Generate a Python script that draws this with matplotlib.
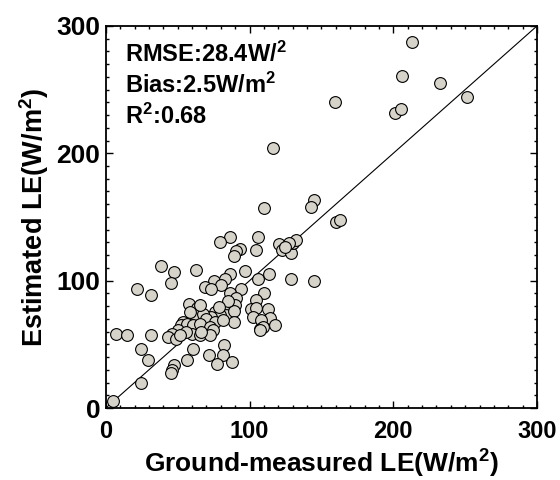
"""Scatter of estimated vs ground-measured latent heat flux (LE)."""

import matplotlib

matplotlib.use("Agg")
import matplotlib.pyplot as plt
from matplotlib.ticker import MultipleLocator

# ground-measured LE (W/m2)
measured = [
    213.1, 205.9, 232.3, 251.6, 159.7, 201.5, 205.7, 116.2, 144.9, 142.6,
    109.9, 160.4, 163.2, 86.7, 79.5, 106.2, 104.8, 93.2, 90.9, 89.3,
    120.3, 122.9, 128.5, 130.3, 132.6, 127.5, 124.5, 38.7, 47.3, 45.0,
    62.8, 97.1, 86.2, 106.2, 113.6, 128.5, 144.9, 22.0, 31.1, 75.4,
    82.8, 79.8, 69.1, 73.5, 94.1, 86.2, 90.9, 110.1, 104.8, 90.2,
    58.0, 101.3, 112.9, 104.8, 63.1, 65.4, 61.9, 75.8, 81.6, 83.9,
    89.3, 102.5, 114.1, 107.8, 89.3, 117.5, 107.1, 109.4, 79.3, 73.5,
    67.5, 70.0, 75.8, 81.6, 53.8, 52.6, 56.6, 60.8, 65.4, 72.3,
    50.3, 74.7, 59.6, 65.4, 72.3, 66.5, 56.1, 45.7, 43.4, 48.7,
    51.5, 107.1, 7.4, 14.8, 31.1, 24.8, 29.0, 60.3, 56.6, 71.6,
    82.3, 81.2, 77.0, 87.9, 47.3, 45.7, 45.0, 24.8, 5.1, 85.1,
    78.4, 65.4, 58.4,
]
# estimated LE (W/m2)
estimated = [
    287.7, 260.7, 255.4, 244.4, 240.5, 231.3, 234.7, 204.4, 163.0, 157.7,
    156.7, 146.4, 147.5, 134.4, 130.7, 134.4, 124.2, 124.7, 123.1, 119.5,
    128.6, 124.4, 121.8, 129.2, 131.8, 129.2, 126.5, 111.3, 106.4, 98.0,
    108.2, 107.7, 105.1, 101.4, 105.1, 101.4, 99.6, 93.3, 89.1, 99.6,
    100.9, 96.4, 95.1, 93.8, 93.5, 90.4, 86.7, 90.4, 85.1, 80.7,
    82.0, 78.1, 77.5, 78.9, 78.9, 74.1, 74.1, 75.5, 78.1, 72.8,
    76.0, 71.5, 70.7, 68.9, 67.6, 65.0, 62.4, 63.7, 72.8, 71.5,
    74.1, 70.2, 67.6, 68.9, 67.6, 65.5, 65.8, 65.0, 66.3, 63.7,
    61.0, 61.0, 57.9, 57.1, 57.1, 59.7, 59.7, 58.4, 55.8, 54.5,
    57.1, 61.0, 57.9, 57.1, 57.1, 46.6, 37.5, 46.6, 37.5, 41.4,
    49.3, 41.4, 34.8, 36.2, 33.5, 29.6, 27.5, 19.6, 5.5, 84.2,
    79.6, 80.7, 75.5,
]
stats_lines = [
    r"RMSE:28.4W/$^\mathbf{2}$",
    r"Bias:2.5W/m$^\mathbf{2}$",
    r"R$^\mathbf{2}$:0.68",
]
limits = (0, 300)

plt.rcParams["font.family"] = ["Liberation Sans", "DejaVu Sans"]
plt.rcParams["font.weight"] = "bold"
plt.rcParams["axes.labelweight"] = "bold"
plt.rcParams["mathtext.fontset"] = "custom"
plt.rcParams["mathtext.rm"] = "Liberation Sans:bold"
plt.rcParams["mathtext.bf"] = "Liberation Sans:bold"
plt.rcParams["mathtext.it"] = "Liberation Sans:bold"

fig = plt.figure(figsize=(5.6, 4.8), dpi=100)
ax = fig.add_axes([0.189, 0.15, 0.770, 0.796])

ax.plot(limits, limits, color="black", linewidth=0.8, zorder=1)
ax.scatter(
    measured,
    estimated,
    s=72,
    facecolor="#d6d3cb",
    edgecolor="black",
    linewidth=0.8,
    zorder=2,
)

ax.set_xlim(*limits)
ax.set_ylim(*limits)
ax.xaxis.set_major_locator(MultipleLocator(100))
ax.yaxis.set_major_locator(MultipleLocator(100))
ax.xaxis.set_minor_locator(MultipleLocator(10))
ax.yaxis.set_minor_locator(MultipleLocator(10))
ax.tick_params(which="both", direction="in", top=True, right=True, width=1)
ax.tick_params(which="major", length=5)
ax.tick_params(which="minor", length=2.5)
ax.tick_params(axis="x", which="major", labelsize=17, pad=9)
ax.tick_params(axis="y", which="major", labelsize=19, pad=4)
for spine in ax.spines.values():
    spine.set_linewidth(1.3)

ax.set_xlabel(r"Ground-measured LE(W/m$^\mathbf{2}$)", fontsize=19,
              fontweight="bold", labelpad=3)
ax.set_ylabel(r"Estimated LE(W/m$^\mathbf{2}$)", fontsize=19.5,
              fontweight="bold", labelpad=4)

for i, line in enumerate(stats_lines):
    ax.text(
        0.045,
        0.925 - i * 0.081,
        line,
        transform=ax.transAxes,
        fontsize=17,
        fontweight="bold",
        va="center",
        ha="left",
    )

fig.savefig("out.png", dpi=100)
